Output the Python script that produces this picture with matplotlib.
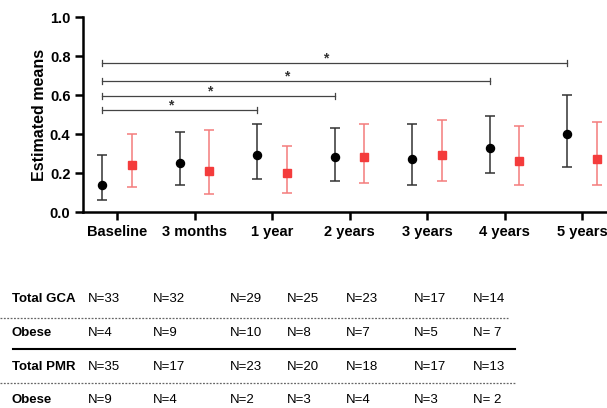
import matplotlib.pyplot as plt
import numpy as np

# timepoints on the x axis
timepoints = ['Baseline', '3 months', '1 year', '2 years', '3 years', '4 years', '5 years']

# black series (circles): mean and 95% CI
gca_mean = [0.14, 0.25, 0.29, 0.28, 0.27, 0.33, 0.40]
gca_low = [0.06, 0.14, 0.17, 0.16, 0.14, 0.20, 0.23]
gca_high = [0.29, 0.41, 0.45, 0.43, 0.45, 0.49, 0.60]

# red series (squares): mean and 95% CI
pmr_mean = [0.24, 0.21, 0.20, 0.28, 0.29, 0.26, 0.27]
pmr_low = [0.13, 0.09, 0.10, 0.15, 0.16, 0.14, 0.14]
pmr_high = [0.40, 0.42, 0.34, 0.45, 0.47, 0.44, 0.46]

# significance brackets: baseline vs timepoint index, at height
bracket_to = [2, 3, 5, 6]
bracket_y = [0.525, 0.597, 0.673, 0.766]

# table of group sizes
row_labels = ['Total GCA', 'Obese', 'Total PMR', 'Obese']
row_counts = [
    ['N=33', 'N=32', 'N=29', 'N=25', 'N=23', 'N=17', 'N=14'],
    ['N=4', 'N=9', 'N=10', 'N=8', 'N=7', 'N=5', 'N= 7'],
    ['N=35', 'N=17', 'N=23', 'N=20', 'N=18', 'N=17', 'N=13'],
    ['N=9', 'N=4', 'N=2', 'N=3', 'N=4', 'N=3', 'N= 2'],
]

W, H = 607, 408
fig = plt.figure(figsize=(W / 100, H / 100), dpi=100)
plt.rcParams['font.family'] = ['Liberation Sans', 'DejaVu Sans']

ax = fig.add_axes([83 / W, 1 - 212 / H, 534 / W, 195 / H])
x = np.arange(len(timepoints))
off = 0.19

gm = np.array(gca_mean)
pm = np.array(pmr_mean)
ax.errorbar(x - off, gm, yerr=[gm - np.array(gca_low), np.array(gca_high) - gm],
            fmt='o', color='black', ecolor='#333333', ms=5.8, elinewidth=1.1,
            capsize=3.3, capthick=1.1, zorder=3)
ax.errorbar(x + off, pm, yerr=[pm - np.array(pmr_low), np.array(pmr_high) - pm],
            fmt='s', color='#f43c3c', ecolor='#f47c7c', ms=5.5, elinewidth=1.1,
            capsize=3.3, capthick=1.1, zorder=3)

# brackets
for j, yb in zip(bracket_to, bracket_y):
    x0, x1 = 0 - off, j - off
    ax.plot([x0, x1], [yb, yb], color='#444444', lw=0.9)
    ax.plot([x0, x0], [yb - 0.015, yb + 0.015], color='#444444', lw=0.9)
    ax.plot([x1, x1], [yb - 0.015, yb + 0.015], color='#444444', lw=0.9)
    ax.text((x0 + x1) / 2 - 0.12, yb - 0.014, '*', ha='center', va='bottom',
            fontsize=10, fontweight='bold', color='#333333')

ax.set_xlim(-0.44, 6.45)
ax.set_ylim(0, 1.0)
ax.set_yticks([0.0, 0.2, 0.4, 0.6, 0.8, 1.0])
ax.set_yticklabels(['0.0', '0.2', '0.4', '0.6', '0.8', '1.0'])
ax.set_xticks(x)
ax.set_xticklabels(timepoints)
for lab in ax.get_xticklabels() + ax.get_yticklabels():
    lab.set_fontweight('bold')
    lab.set_fontsize(10.5)
ax.set_ylabel('Estimated means', fontsize=11.5, fontweight='bold', labelpad=2)
ax.spines['top'].set_visible(False)
ax.spines['right'].set_visible(False)
ax.spines['left'].set_linewidth(1.8)
ax.spines['bottom'].set_linewidth(1.8)
ax.tick_params(width=1.8, length=6, pad=3)

# table below the chart, drawn in pixel coordinates
tab = fig.add_axes([0, 0, 1, 1])
tab.set_xlim(0, W)
tab.set_ylim(H, 0)
tab.axis('off')
col_x = [88, 153, 230, 287, 346, 414, 473]
row_y = [299, 333, 367, 400]
for r, (lab, counts) in enumerate(zip(row_labels, row_counts)):
    tab.text(12, row_y[r], lab, fontsize=9.5, fontweight='bold', ha='left', va='center')
    for cx, c in zip(col_x, counts):
        tab.text(cx, row_y[r], c, fontsize=9.5, ha='left', va='center')

tab.plot([0, 508], [318, 318], color='#666666', lw=0.9, ls=(0, (1.5, 1.2)))
tab.plot([13, 515], [349, 349], color='black', lw=1.5)
tab.plot([0, 515], [383, 383], color='#666666', lw=0.9, ls=(0, (1.5, 1.2)))

fig.savefig('out.png', dpi=100)
